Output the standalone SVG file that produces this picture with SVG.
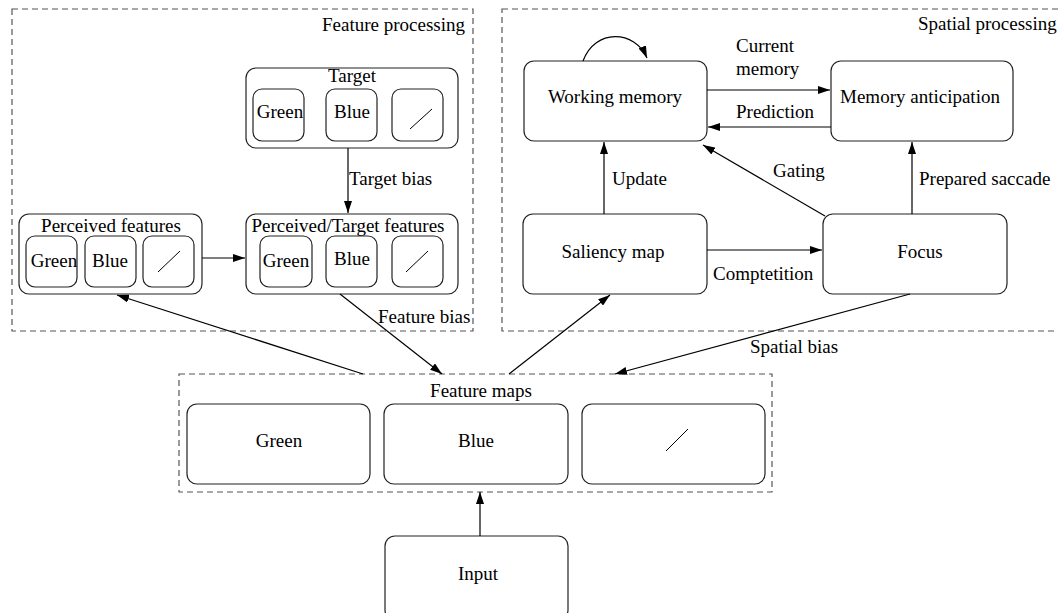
<svg xmlns="http://www.w3.org/2000/svg" width="1058" height="613" viewBox="0 0 1058 613">
<style>
text{font-family:"Liberation Serif","Times New Roman",serif;font-size:19px;fill:#000}
.c{text-anchor:middle}
.r{text-anchor:end}
.box{fill:#fff;stroke:#222;stroke-width:1.2}
.grp{fill:none;stroke:#555;stroke-width:1.2;stroke-dasharray:6,4}
.edge{fill:none;stroke:#000;stroke-width:1.2}
.sl{stroke:#000;stroke-width:1}
</style>
<defs>
<marker id="ah" viewBox="0 0 12 8" refX="12" refY="4" markerWidth="12" markerHeight="8" markerUnits="userSpaceOnUse" orient="auto">
<path d="M0,0 L12,4 L0,8 Z" fill="#000"/>
</marker>
</defs>

<g id="feature-processing">
<rect class="grp" x="12" y="9" width="461" height="322"/>
<text class="r" x="465" y="31">Feature processing</text>
</g>
<g id="spatial-processing">
<rect class="grp" x="502" y="9" width="570" height="322"/>
<text x="918" y="30">Spatial processing</text>
</g>

<g id="target">
<rect class="box" x="246" y="68" width="212" height="80" rx="10"/>
<text class="c" x="352" y="82">Target</text>
<rect class="box" x="253" y="89" width="51" height="52" rx="9"/>
<text class="c" x="280" y="118">Green</text>
<rect class="box" x="326" y="89" width="51" height="52" rx="9"/>
<text class="c" x="352" y="118">Blue</text>
<rect class="box" x="392" y="89" width="51" height="52" rx="9"/>
<line class="sl" x1="410" y1="129" x2="432" y2="109"/>
</g>

<g id="perceived-features">
<rect class="box" x="19" y="214" width="183" height="80" rx="10"/>
<text class="c" x="111" y="232">Perceived features</text>
<rect class="box" x="26" y="236" width="51" height="51" rx="9"/>
<text class="c" x="54" y="267">Green</text>
<rect class="box" x="85" y="236" width="51" height="51" rx="9"/>
<text class="c" x="110" y="267">Blue</text>
<rect class="box" x="143" y="236" width="51" height="51" rx="9"/>
<line class="sl" x1="158" y1="272" x2="180" y2="251"/>
</g>

<g id="perceived-target-features">
<rect class="box" x="246" y="214" width="212" height="80" rx="10"/>
<text class="c" x="348" y="232">Perceived/Target features</text>
<rect class="box" x="260" y="236" width="52" height="51" rx="9"/>
<text class="c" x="286" y="267">Green</text>
<rect class="box" x="326" y="236" width="51" height="51" rx="9"/>
<text class="c" x="352" y="265">Blue</text>
<rect class="box" x="392" y="236" width="51" height="51" rx="9"/>
<line class="sl" x1="406" y1="272" x2="428" y2="251"/>
</g>

<g id="working-memory">
<rect class="box" x="524" y="61" width="183" height="80" rx="10"/>
<text class="c" x="615" y="103">Working memory</text>
</g>
<g id="memory-anticipation">
<rect class="box" x="831" y="61" width="182" height="80" rx="10"/>
<text class="c" x="920" y="103">Memory anticipation</text>
</g>
<g id="saliency-map">
<rect class="box" x="523" y="214" width="184" height="80" rx="10"/>
<text class="c" x="613" y="258">Saliency map</text>
</g>
<g id="focus">
<rect class="box" x="823" y="214" width="184" height="80" rx="10"/>
<text class="c" x="920" y="258">Focus</text>
</g>

<g id="feature-maps">
<rect class="grp" x="179" y="374" width="593" height="118"/>
<text class="c" x="481" y="397">Feature maps</text>
<rect class="box" x="187" y="404" width="183" height="80" rx="10"/>
<text class="c" x="279" y="447">Green</text>
<rect class="box" x="384" y="404" width="184" height="80" rx="10"/>
<text class="c" x="476" y="447">Blue</text>
<rect class="box" x="582" y="404" width="183" height="80" rx="10"/>
<line class="sl" x1="666" y1="451" x2="688" y2="429"/>
</g>

<g id="input">
<rect class="box" x="385" y="536" width="183" height="84" rx="10"/>
<text class="c" x="478" y="580">Input</text>
</g>

<g id="connectors">
<line class="edge" x1="348" y1="148" x2="348" y2="213" marker-end="url(#ah)"/>
<text x="349" y="185">Target bias</text>
<line class="edge" x1="202" y1="258" x2="245" y2="258" marker-end="url(#ah)"/>
<line class="edge" x1="340" y1="294" x2="442" y2="374" marker-end="url(#ah)"/>
<text x="378" y="323">Feature bias</text>
<line class="edge" x1="363" y1="374" x2="117" y2="295" marker-end="url(#ah)"/>
<line class="edge" x1="509" y1="374" x2="610" y2="295" marker-end="url(#ah)"/>
<line class="edge" x1="910" y1="294" x2="615" y2="374" marker-end="url(#ah)"/>
<text x="750" y="353">Spatial bias</text>
<line class="edge" x1="480" y1="536" x2="480" y2="492" marker-end="url(#ah)"/>
<path class="edge" d="M583,61 C595,28 635,30 647,58" marker-end="url(#ah)"/>
<line class="edge" x1="707" y1="90" x2="830" y2="90" marker-end="url(#ah)"/>
<text x="736" y="52">Current</text>
<text x="736" y="75">memory</text>
<line class="edge" x1="831" y1="127" x2="708" y2="127" marker-end="url(#ah)"/>
<text x="736" y="118">Prediction</text>
<line class="edge" x1="604" y1="214" x2="604" y2="142" marker-end="url(#ah)"/>
<text x="612" y="185">Update</text>
<line class="edge" x1="825" y1="216" x2="703" y2="145" marker-end="url(#ah)"/>
<text x="773" y="177">Gating</text>
<line class="edge" x1="912" y1="214" x2="912" y2="142" marker-end="url(#ah)"/>
<text x="919" y="185">Prepared saccade</text>
<line class="edge" x1="707" y1="250" x2="822" y2="250" marker-end="url(#ah)"/>
<text x="713" y="280">Comptetition</text>
</g>
</svg>
